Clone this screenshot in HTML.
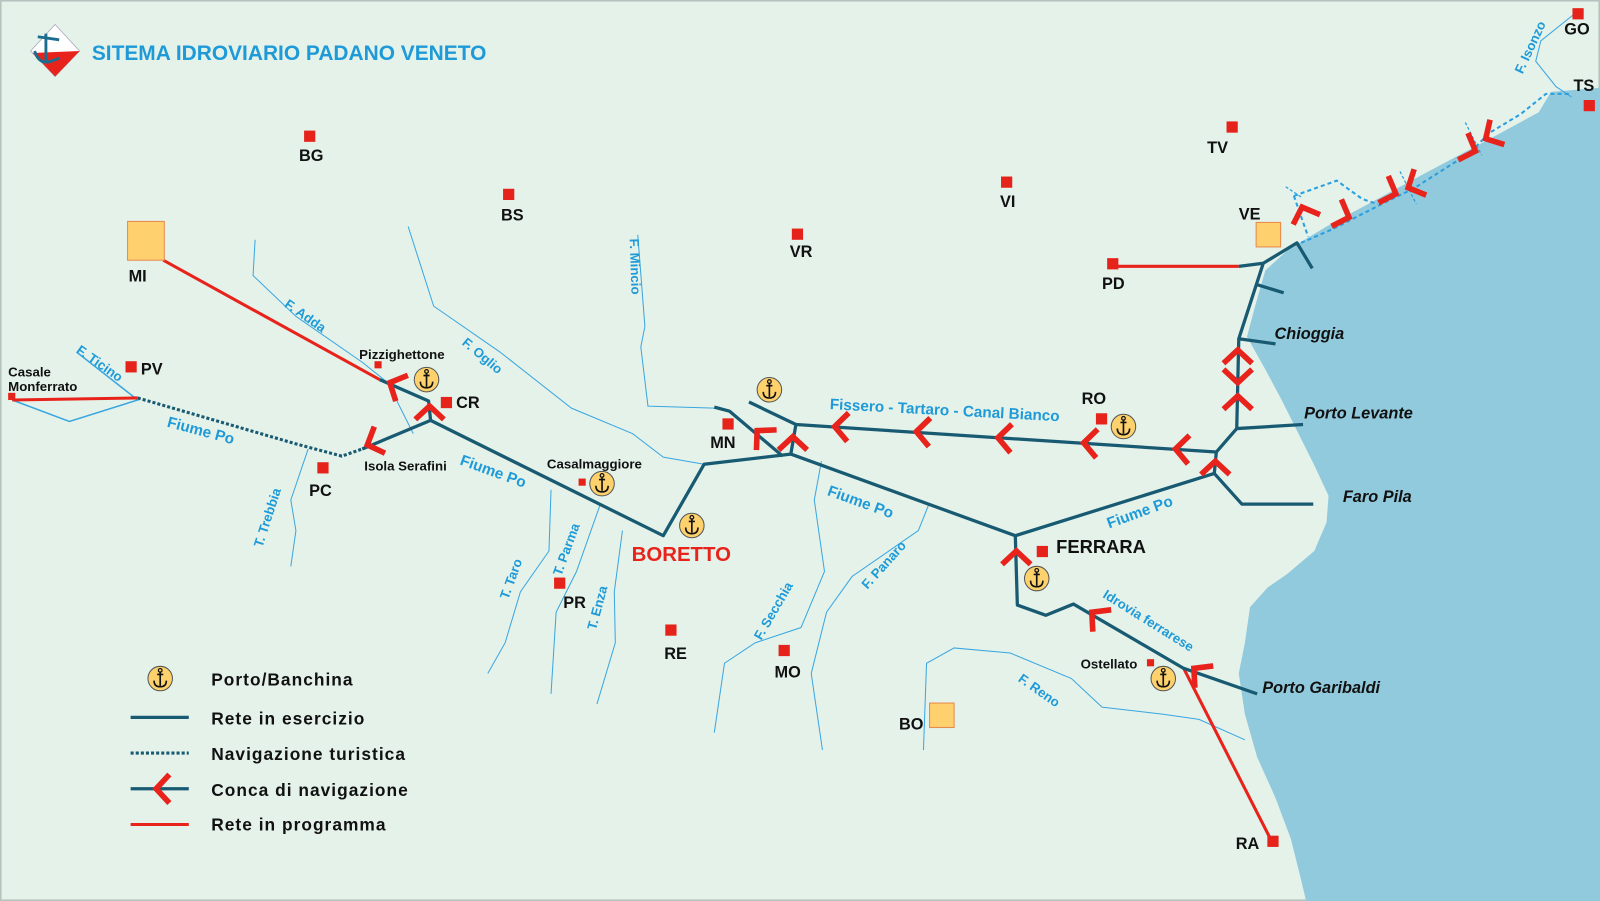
<!DOCTYPE html>
<html><head><meta charset="utf-8"><style>
html,body{margin:0;padding:0;background:#e4f2ea;}
svg{display:block}
text{font-family:"Liberation Sans",Arial,sans-serif;font-weight:bold}
.c{fill:#111;font-size:16px}
.s{fill:#111;font-size:13px}
.i{fill:#111;font-size:16px;font-style:italic}
.b{fill:#1e9ad8;font-size:15px}
.bs{fill:#1e9ad8;font-size:13px}
.r{fill:none;stroke:#3aa6e0;stroke-width:1}
.n{fill:none;stroke:#185a72;stroke-width:3.2;stroke-linejoin:round}
.p{fill:none;stroke:#e8231c;stroke-width:3}
.k{fill:none;stroke:#e8231c;stroke-width:5.5;stroke-linecap:butt;stroke-linejoin:miter}
.q{fill:#e5231b}
.y{fill:#fed06e;stroke:#e8884a;stroke-width:1}
</style></head><body>
<svg width="1600" height="901" viewBox="0 0 1568 883" preserveAspectRatio="none">
<defs>
<g id="ch"><path d="M13,-14 L0,0 L13,14" class="k"/></g>
<g id="an"><circle r="12" fill="#fdd16c" stroke="#555" stroke-width="1"/>
<path d="M0,-7 V7 M-6,2 Q-6,8 0,8 Q6,8 6,2 M-3,-4 H3" fill="none" stroke="#111" stroke-width="1.6"/><circle cy="-8" r="1.8" fill="none" stroke="#111" stroke-width="1.2"/></g>
</defs>
<rect x="0" y="0" width="1568" height="883" fill="#e4f2ea" stroke="#b5c2bd" stroke-width="3"/>
<path d="M1568,86 L1520,90 L1508,110 L1462,135 L1400,168 L1348,196 L1300,222 L1262,245 L1240,265 L1230,300 L1222,330 L1240,362 L1256,392 L1272,424 L1288,456 L1302,486 L1300,512 L1288,540 L1262,562 L1242,576 L1225,595 L1220,630 L1214,660 L1220,700 L1232,742 L1250,782 L1265,822 L1275,862 L1280,883 L1568,883 Z" fill="#92cadd"/>
<!-- logo -->
<path d="M54,24 L78,50 L54,75 L30,50 Z" fill="#fff" stroke="#aab" stroke-width="0.8"/>
<path d="M32,52 L78,50 L54,75 Z" fill="#e8231c"/>
<path d="M45,33 L45,60 M37,36 L58,39 M34,50 Q38,64 50,60 L58,57" fill="none" stroke="#1b6d8f" stroke-width="2.8"/>
<text x="90" y="59" style="font-size:20.5px;fill:#1e9ad8">SITEMA IDROVIARIO PADANO VENETO</text>
<g class="r">
<path d="M12,392 L68,413 L135,392 L75,345" stroke-width="1.5"/>
<path d="M250,235 L248,270 L290,310 L355,355 L380,375 L405,425"/>
<path d="M400,222 L425,300 L490,345 L560,400 L620,425 L650,448 L690,455"/>
<path d="M625,230 L632,320 L628,340 L635,398 L700,400"/>
<path d="M302,440 L285,490 L290,520 L285,555"/>
<path d="M540,480 L538,540 L510,580 L495,630 L478,660"/>
<path d="M588,495 L565,560 L545,600 L540,680"/>
<path d="M610,520 L602,580 L603,630 L585,690"/>
<path d="M805,452 L798,490 L808,560 L785,615 L740,630 L710,650 L700,718"/>
<path d="M910,495 L900,520 L835,565 L810,600 L795,660 L806,735"/>
<path d="M905,735 L908,650 L935,635 L990,640 L1050,665 L1080,693 L1140,700 L1175,705 L1220,725"/>
<path d="M1545,12 L1510,40 L1505,60 L1525,85 L1540,95"/>
</g>
<path d="M135,390 L290,435 L335,447 L355,440" fill="none" stroke="#185a72" stroke-width="3" stroke-dasharray="3,2"/>
<g fill="none" stroke="#2a9fe0" stroke-width="2" stroke-dasharray="4,3">
<path d="M1275,238 L1305,225 L1360,197 L1385,185 L1440,150 L1460,130 L1490,112 L1515,92 L1540,92"/>
<path d="M1268,192 L1282,232 M1268,192 L1310,177 L1335,195 L1350,200"/>
</g>
<g stroke="#2a9fe0" stroke-width="1.2" stroke-dasharray="3,2"><path d="M1372,168 L1388,200 M1436,120 L1452,152 M1260,183 L1275,193"/></g>
<path class="p" d="M160,255 L372,372"/>
<path class="p" d="M12,392 L135,390"/>
<path class="p" d="M1090,261 L1214,261"/>
<path class="p" d="M1160,655 L1245,822"/>
<g class="n">
<path d="M372,372 L420,393 L422,412"/>
<path d="M355,440 L422,412 L650,525 L690,455 L775,445 L995,525 L1190,464"/>
<path d="M700,399 L715,403 L767,447 M734,394 L780,416 L775,445 M780,416 L1192,443"/>
<path d="M1190,464 L1192,443 L1212,420 L1214,332 L1238,258 L1271,238 L1286,263 M1238,258 L1214,261 M1232,279 L1258,287 M1214,332 L1250,337 M1212,420 L1277,416 M1190,464 L1217,494 L1287,494"/>
<path d="M995,525 L997,593 L1025,603 L1052,592 L1160,655 L1232,680"/>
</g>
<use href="#ch" transform="translate(382,375) rotate(25)"/>
<use href="#ch" transform="translate(421,398) rotate(90)"/>
<use href="#ch" transform="translate(360,436) rotate(-22)"/>
<use href="#ch" transform="translate(742,422) rotate(45)"/>
<use href="#ch" transform="translate(777,428) rotate(90)"/>
<use href="#ch" transform="translate(818,418) rotate(3)"/>
<use href="#ch" transform="translate(898,423) rotate(3)"/>
<use href="#ch" transform="translate(978,429) rotate(3)"/>
<use href="#ch" transform="translate(1062,434) rotate(3)"/>
<use href="#ch" transform="translate(1152,440) rotate(3)"/>
<use href="#ch" transform="translate(1191,452) rotate(90)"/>
<use href="#ch" transform="translate(1213,343) rotate(90)"/>
<use href="#ch" transform="translate(1213,375) rotate(-90)"/>
<use href="#ch" transform="translate(1213,388) rotate(90)"/>
<use href="#ch" transform="translate(1276,203) rotate(70)"/>
<use href="#ch" transform="translate(1322,213) rotate(200)"/>
<use href="#ch" transform="translate(1368,190) rotate(200)"/>
<use href="#ch" transform="translate(1380,184) rotate(-25)"/>
<use href="#ch" transform="translate(1446,148) rotate(200)"/>
<use href="#ch" transform="translate(1456,136) rotate(-30)"/>
<use href="#ch" transform="translate(996,540) rotate(90)"/>
<use href="#ch" transform="translate(1070,600) rotate(40)"/>
<use href="#ch" transform="translate(1170,655) rotate(40)"/>
<use href="#an" x="418" y="372"/><use href="#an" x="590" y="474"/><use href="#an" x="678" y="515"/>
<use href="#an" x="754" y="382"/><use href="#an" x="1101" y="418"/><use href="#an" x="1016" y="567"/>
<use href="#an" x="1140" y="665"/><use href="#an" x="157" y="665"/>
<g class="q">
<rect x="298" y="128" width="11" height="11"/><rect x="493" y="185" width="11" height="11"/>
<rect x="776" y="224" width="11" height="11"/><rect x="981" y="173" width="11" height="11"/>
<rect x="1202" y="119" width="11" height="11"/><rect x="1085" y="253" width="11" height="11"/>
<rect x="1074" y="405" width="11" height="11"/><rect x="708" y="410" width="11" height="11"/>
<rect x="432" y="389" width="11" height="11"/><rect x="123" y="354" width="11" height="11"/>
<rect x="311" y="453" width="11" height="11"/><rect x="543" y="566" width="11" height="11"/>
<rect x="652" y="612" width="11" height="11"/><rect x="763" y="632" width="11" height="11"/>
<rect x="1016" y="535" width="11" height="11"/><rect x="1242" y="819" width="11" height="11"/>
<rect x="1541" y="8" width="11" height="11"/><rect x="1552" y="98" width="11" height="11"/>
<rect x="567" y="469" width="7" height="7"/><rect x="367" y="354" width="7" height="7"/>
<rect x="1124" y="646" width="7" height="7"/><rect x="8" y="385" width="7" height="7"/>
</g>
<rect x="125" y="217" width="36" height="38" class="y"/>
<rect x="1231" y="218" width="24" height="24" class="y"/>
<rect x="911" y="689" width="24" height="24" class="y"/>
<g class="c">
<text x="293" y="158">BG</text><text x="491" y="216">BS</text><text x="774" y="252">VR</text>
<text x="980" y="203">VI</text><text x="1183" y="150">TV</text><text x="1214" y="215">VE</text>
<text x="1080" y="283">PD</text><text x="1060" y="396">RO</text><text x="696" y="439">MN</text>
<text x="447" y="400">CR</text><text x="138" y="367">PV</text><text x="303" y="486">PC</text>
<text x="552" y="596">PR</text><text x="651" y="646">RE</text><text x="759" y="664">MO</text>
<text x="1211" y="832">RA</text><text x="881" y="715">BO</text><text x="1533" y="34">GO</text>
<text x="1542" y="89">TS</text><text x="126" y="276">MI</text>
<text x="1035" y="542" style="font-size:18px">FERRARA</text>
</g>
<text x="619" y="550" style="font-size:20px;fill:#e8231c">BORETTO</text>
<g class="s">
<text x="352" y="352">Pizzighettone</text><text x="536" y="459">Casalmaggiore</text>
<text x="357" y="461">Isola Serafini</text><text x="1059" y="655">Ostellato</text>
<text x="8" y="369">Casale</text><text x="8" y="383">Monferrato</text>
</g>
<g class="i">
<text x="1249" y="332">Chioggia</text><text x="1278" y="410">Porto Levante</text>
<text x="1316" y="492">Faro Pila</text><text x="1237" y="679">Porto Garibaldi</text>
</g>
<g class="b">
<text transform="translate(163,418) rotate(15)">Fiume Po</text>
<text transform="translate(450,455) rotate(20)">Fiume Po</text>
<text transform="translate(810,485) rotate(20)">Fiume Po</text>
<text transform="translate(1087,518) rotate(-20)">Fiume Po</text>
<text transform="translate(813,401) rotate(3)">Fissero - Tartaro - Canal Bianco</text>
</g>
<g class="bs">
<text transform="translate(1080,585) rotate(32)">Idrovia ferrarese</text>
<text transform="translate(278,300) rotate(35)">F. Adda</text>
<text transform="translate(452,337) rotate(40)">F. Oglio</text>
<text transform="translate(617,234) rotate(88)">F. Mincio</text>
<text transform="translate(74,345) rotate(35)">F. Ticino</text>
<text transform="translate(257,537) rotate(-72)">T. Trebbia</text>
<text transform="translate(498,588) rotate(-70)">T. Taro</text>
<text transform="translate(550,565) rotate(-70)">T. Parma</text>
<text transform="translate(584,618) rotate(-75)">T. Enza</text>
<text transform="translate(746,628) rotate(-60)">F. Secchia</text>
<text transform="translate(850,578) rotate(-48)">F. Panaro</text>
<text transform="translate(997,667) rotate(35)">F. Reno</text>
<text transform="translate(1492,73) rotate(-65)">F. Isonzo</text>
</g>
<path d="M128,703 H185" class="n"/>
<path d="M128,738 H185" fill="none" stroke="#185a72" stroke-width="3" stroke-dasharray="3,2"/>
<path d="M128,773 H185" class="n"/>
<use href="#ch" transform="translate(153,773)"/>
<path d="M128,808 H185" class="p"/>
<g style="font-size:17px;fill:#111;letter-spacing:1px">
<text x="207" y="672">Porto/Banchina</text><text x="207" y="710">Rete in esercizio</text>
<text x="207" y="745">Navigazione turistica</text><text x="207" y="780">Conca di navigazione</text>
<text x="207" y="814">Rete in programma</text>
</g>
</svg>
</body></html>
